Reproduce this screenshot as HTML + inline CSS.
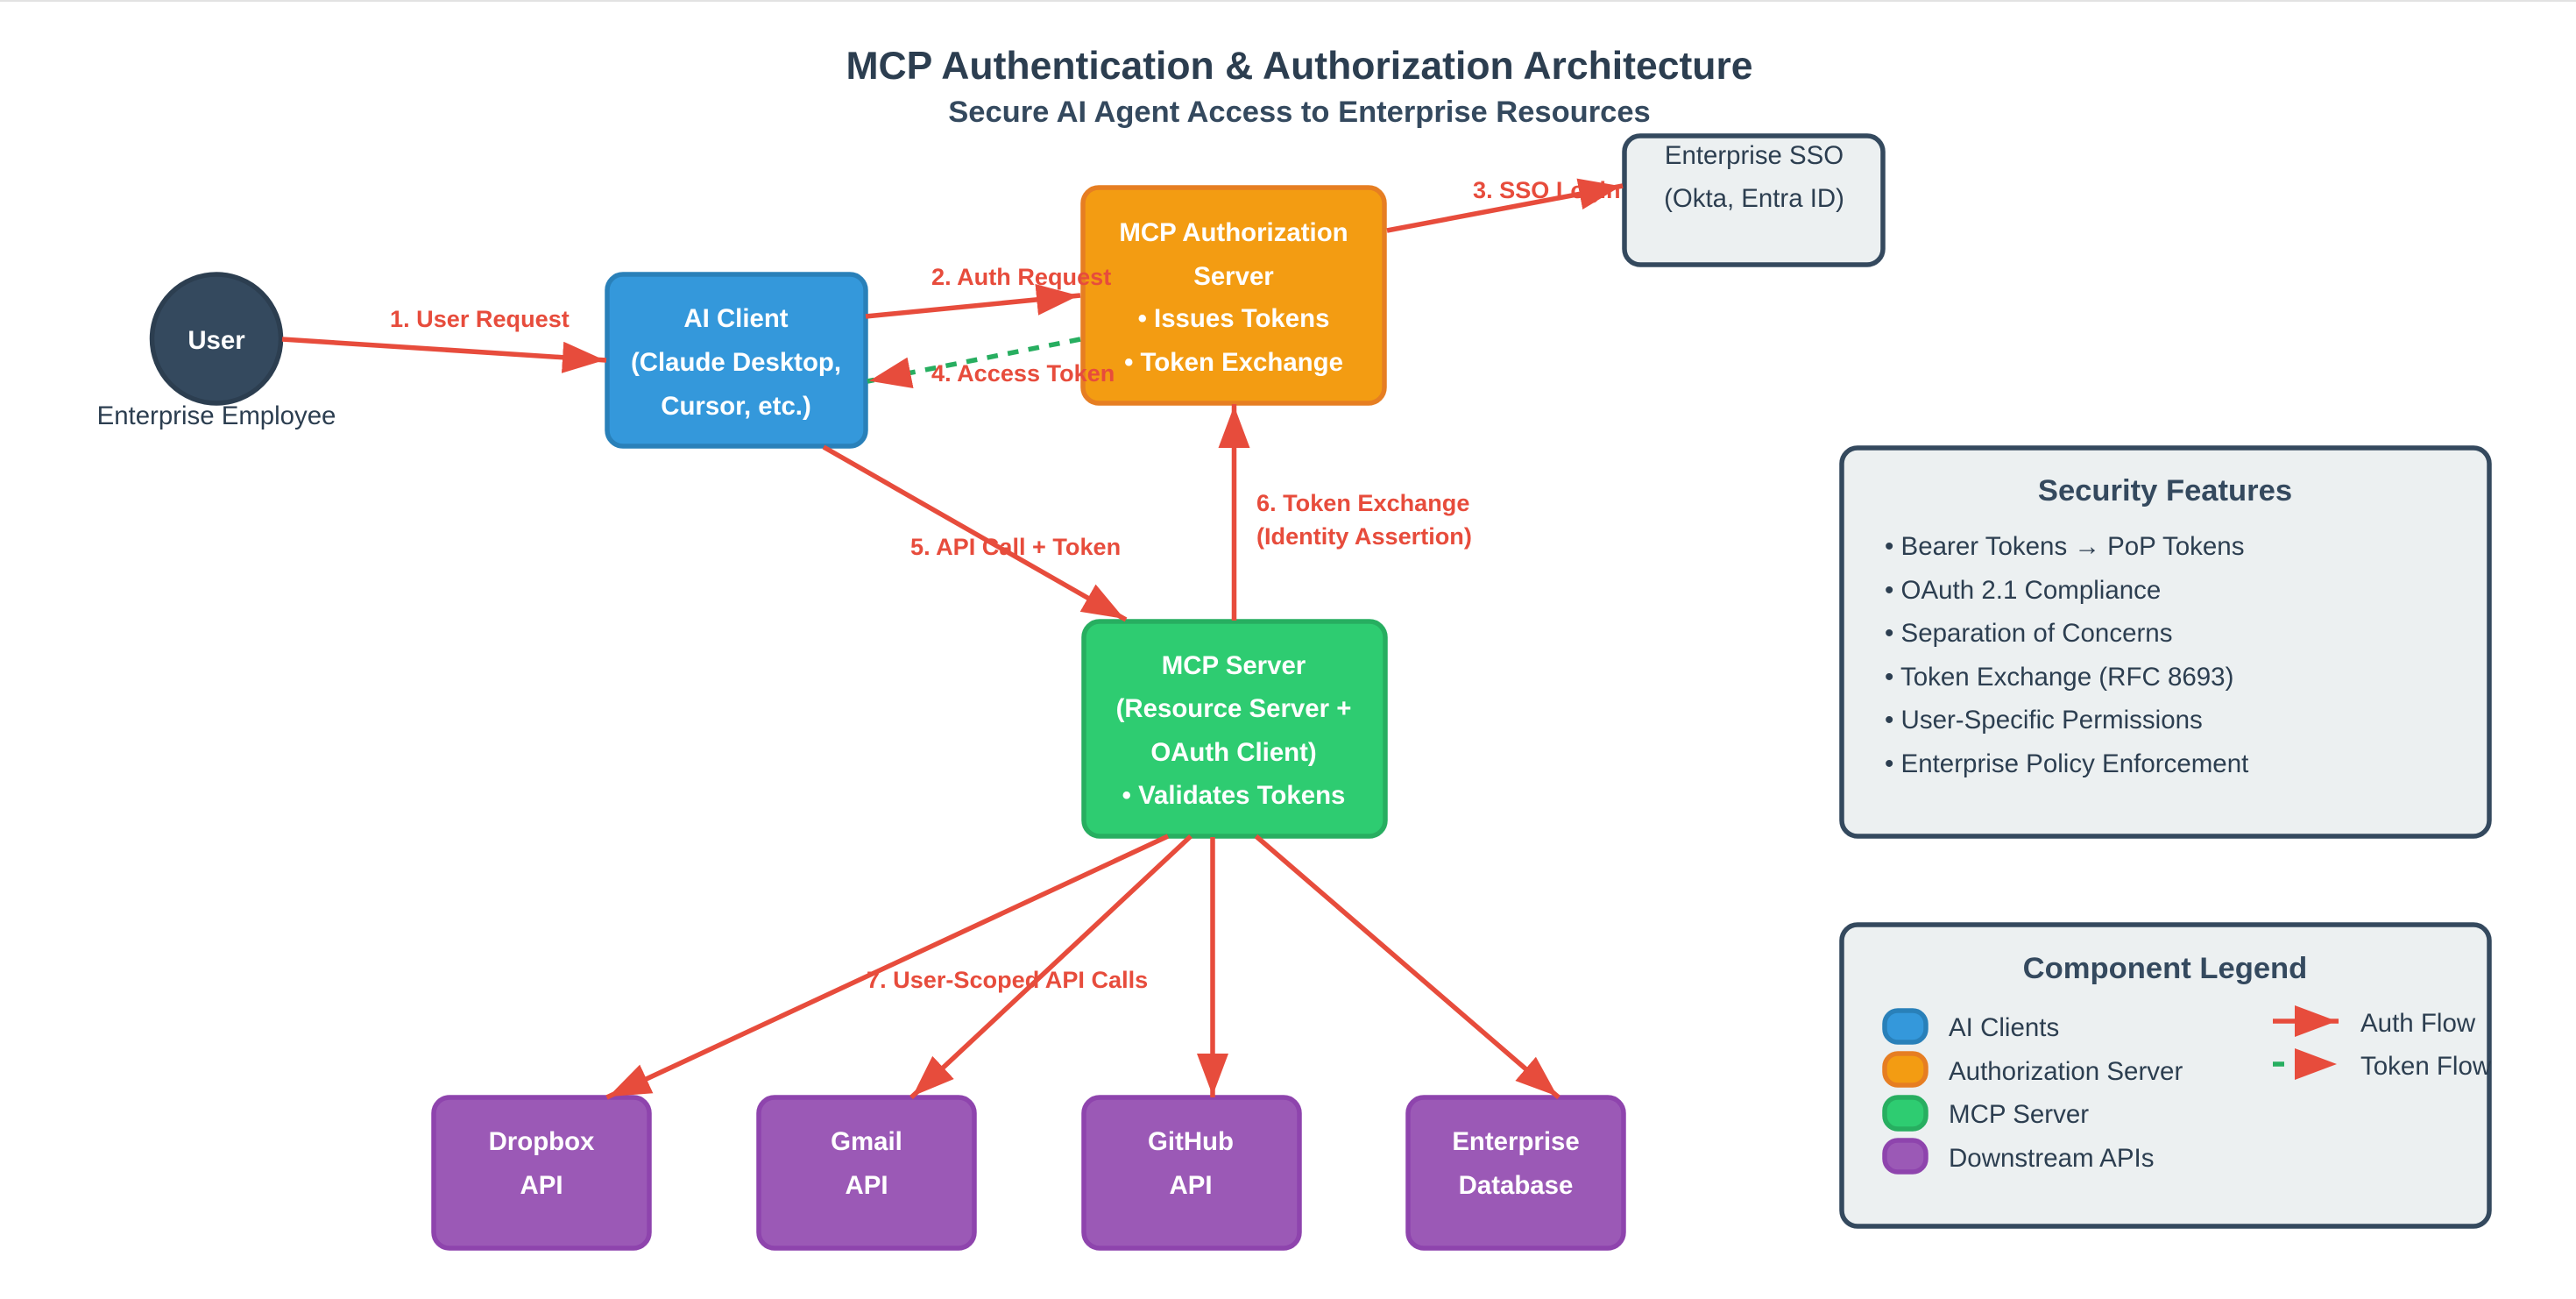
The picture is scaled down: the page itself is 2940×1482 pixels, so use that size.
<!DOCTYPE html>
<html><head><meta charset="utf-8"><title>MCP Authentication &amp; Authorization Architecture</title>
<style>
html,body{margin:0;padding:0;background:#fff;width:2940px;height:1482px;overflow:hidden}
svg{display:block}
text{font-family:"Liberation Sans",sans-serif}
.t{fill:#2c3e50}
.n{font-size:29.4px;font-weight:bold;fill:#fff;text-anchor:middle}
.l{font-size:27.1px;font-weight:bold;fill:#e74c3c}
.r{font-size:29.4px;fill:#2c3e50}
.i{font-size:29.5px;fill:#2c3e50}
.h{font-size:34.6px;font-weight:bold;fill:#34495e;text-anchor:middle}
.a{stroke:#e74c3c;stroke-width:5.5;fill:none;marker-end:url(#m)}
</style></head><body>
<svg width="2940" height="1482" viewBox="0 0 2940 1482" xmlns="http://www.w3.org/2000/svg">
<defs><marker id="m" markerUnits="userSpaceOnUse" markerWidth="54" markerHeight="38" refX="50" refY="18" orient="auto"><polygon points="0,0 48,18 0,36" fill="#e74c3c"/></marker></defs>
<rect x="0" y="0" width="2940" height="2" fill="#e2e2e2"/>
<text x="1483" y="90" text-anchor="middle" font-size="44.5px" font-weight="bold" class="t">MCP Authentication &amp; Authorization Architecture</text>
<text x="1483" y="139" text-anchor="middle" font-size="34.5px" font-weight="bold" fill="#34495e">Secure AI Agent Access to Enterprise Resources</text>

<circle cx="247" cy="386.5" r="73.5" fill="#34495e" stroke="#2c3e50" stroke-width="5.5"/>
<rect x="693" y="313" width="295" height="196" rx="18" fill="#3498db" stroke="#2980b9" stroke-width="5.5"/>
<rect x="1236" y="214" width="344" height="246" rx="18" fill="#f39c12" stroke="#e67e22" stroke-width="5.5"/>
<rect x="1854" y="155" width="295" height="147" rx="18" fill="#ecf0f1" stroke="#34495e" stroke-width="5.5"/>
<rect x="1237" y="709" width="344" height="245" rx="18" fill="#2ecc71" stroke="#27ae60" stroke-width="5.5"/>
<rect x="495" y="1252" width="246" height="172" rx="18" fill="#9b59b6" stroke="#8e44ad" stroke-width="5.5"/>
<rect x="866" y="1252" width="246" height="172" rx="18" fill="#9b59b6" stroke="#8e44ad" stroke-width="5.5"/>
<rect x="1237" y="1252" width="246" height="172" rx="18" fill="#9b59b6" stroke="#8e44ad" stroke-width="5.5"/>
<rect x="1607" y="1252" width="246" height="172" rx="18" fill="#9b59b6" stroke="#8e44ad" stroke-width="5.5"/>
<rect x="2102" y="511" width="739" height="443" rx="18" fill="#ecf0f1" stroke="#34495e" stroke-width="5.5"/>
<rect x="2102" y="1055" width="739" height="344" rx="18" fill="#ecf0f1" stroke="#34495e" stroke-width="5.5"/>

<line class="a" x1="322" y1="387" x2="692" y2="411"/>
<line class="a" x1="988" y1="361" x2="1233" y2="337"/>
<line class="a" x1="1583" y1="263" x2="1852" y2="212"/>
<line x1="1233" y1="387" x2="990" y2="435" stroke="#27ae60" stroke-width="5.5" stroke-dasharray="12.5 11.5" marker-end="url(#m)"/>
<line class="a" x1="940" y1="510" x2="1285" y2="707"/>
<line class="a" x1="1408.5" y1="708" x2="1408.5" y2="461"/>
<line class="a" x1="1333" y1="954" x2="692.5" y2="1252"/>
<line class="a" x1="1359" y1="954" x2="1040" y2="1252"/>
<line class="a" x1="1384" y1="955" x2="1384" y2="1252"/>
<line class="a" x1="1433.5" y1="954" x2="1779" y2="1252"/>

<text class="n" x="247" y="398">User</text>
<text class="r" x="247" y="484" text-anchor="middle">Enterprise Employee</text>
<text class="n" x="840" y="373">AI Client</text>
<text class="n" x="840" y="423">(Claude Desktop,</text>
<text class="n" x="840" y="473">Cursor, etc.)</text>
<text class="n" x="1408" y="275">MCP Authorization</text>
<text class="n" x="1408" y="325">Server</text>
<text class="n" x="1408" y="373">• Issues Tokens</text>
<text class="n" x="1408" y="423">• Token Exchange</text>
<text class="r" x="2002" y="187" text-anchor="middle">Enterprise SSO</text>
<text class="r" x="2002" y="236" text-anchor="middle">(Okta, Entra ID)</text>
<text class="n" x="1408" y="769">MCP Server</text>
<text class="n" x="1408" y="818">(Resource Server +</text>
<text class="n" x="1408" y="868">OAuth Client)</text>
<text class="n" x="1408" y="917">• Validates Tokens</text>
<text class="n" x="618" y="1312">Dropbox</text><text class="n" x="618" y="1362">API</text>
<text class="n" x="989" y="1312">Gmail</text><text class="n" x="989" y="1362">API</text>
<text class="n" x="1359" y="1312">GitHub</text><text class="n" x="1359" y="1362">API</text>
<text class="n" x="1730" y="1312">Enterprise</text><text class="n" x="1730" y="1362">Database</text>

<text class="l" x="445" y="373">1. User Request</text>
<text class="l" x="1063" y="325">2. Auth Request</text>
<text class="l" x="1681" y="226">3. SSO Login</text>
<text class="l" x="1063" y="435">4. Access Token</text>
<text class="l" x="1039" y="633">5. API Call + Token</text>
<text class="l" x="1434" y="583">6. Token Exchange</text>
<text class="l" x="1434" y="621">(Identity Assertion)</text>
<text class="l" x="989" y="1127">7. User-Scoped API Calls</text>

<text class="h" x="2471" y="571">Security Features</text>
<text class="i" x="2151" y="633">• Bearer Tokens → PoP Tokens</text>
<text class="i" x="2151" y="683">• OAuth 2.1 Compliance</text>
<text class="i" x="2151" y="732">• Separation of Concerns</text>
<text class="i" x="2151" y="782">• Token Exchange (RFC 8693)</text>
<text class="i" x="2151" y="831">• User-Specific Permissions</text>
<text class="i" x="2151" y="881">• Enterprise Policy Enforcement</text>

<text class="h" x="2471" y="1116">Component Legend</text>
<rect x="2151" y="1153" width="47" height="36" rx="15" fill="#3498db" stroke="#2980b9" stroke-width="5.5"/>
<rect x="2151" y="1202" width="47" height="36" rx="15" fill="#f39c12" stroke="#e67e22" stroke-width="5.5"/>
<rect x="2151" y="1252" width="47" height="36" rx="15" fill="#2ecc71" stroke="#27ae60" stroke-width="5.5"/>
<rect x="2151" y="1301" width="47" height="36" rx="15" fill="#9b59b6" stroke="#8e44ad" stroke-width="5.5"/>
<text class="i" x="2224" y="1182">AI Clients</text>
<text class="i" x="2224" y="1232">Authorization Server</text>
<text class="i" x="2224" y="1281">MCP Server</text>
<text class="i" x="2224" y="1331">Downstream APIs</text>
<line class="a" x1="2594" y1="1165" x2="2669" y2="1165"/>
<line x1="2594" y1="1214" x2="2669" y2="1214" stroke="#27ae60" stroke-width="5.5" stroke-dasharray="13 12" marker-end="url(#m)"/>
<text class="i" x="2694" y="1177">Auth Flow</text>
<text class="i" x="2694" y="1226">Token Flow</text>
</svg>
</body></html>
